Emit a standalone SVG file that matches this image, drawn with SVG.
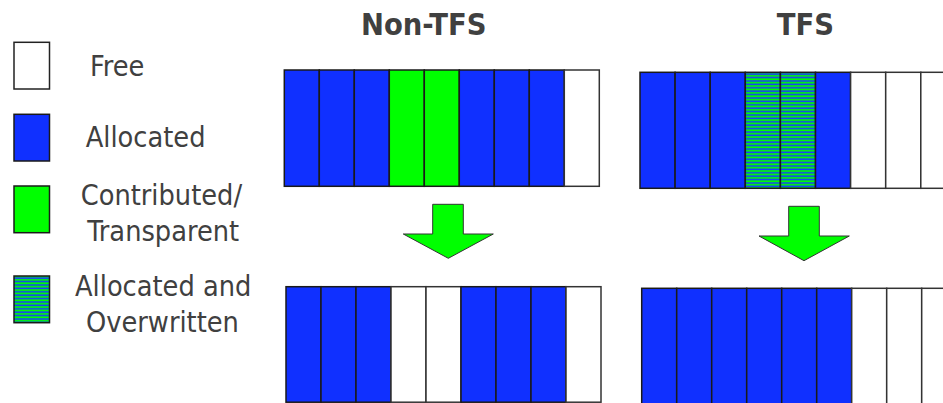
<svg xmlns="http://www.w3.org/2000/svg" width="943" height="403" viewBox="0 0 943 403">
<style>
text{font-family:"DejaVu Sans Condensed","DejaVu Sans","Liberation Sans",sans-serif;fill:#404040}
.lg{font-size:28.6px}
.tt{font-size:30.5px;font-weight:bold}
.b{fill:#1030ff;stroke:#1a1a1a;stroke-width:1.5}
.g{fill:#00ff00;stroke:#1a1a1a;stroke-width:1.5}
.w{fill:#ffffff;stroke:#333;stroke-width:1.5}
.h{fill:url(#stripes);stroke:#1a1a1a;stroke-width:1.5}
.arrow{fill:#00ff00;stroke:#333;stroke-width:1}
</style>
<defs>
<pattern id="stripes" patternUnits="userSpaceOnUse" x="0" y="0" width="10" height="3.4">
<rect x="0" y="0" width="10" height="3.4" fill="#1a3cff"/>
<rect x="0" y="0.2" width="10" height="1.8" fill="#00ff00"/>
</pattern>
</defs>

<g id="legend-free"><rect class="w" x="14" y="42.3" width="35.5" height="46.7" style="stroke:#222"/><text class="lg" x="90" y="76">Free</text></g>
<g id="legend-allocated"><rect class="b" x="14" y="114.3" width="35.5" height="46.7"/><text class="lg" x="85.7" y="146.7">Allocated</text></g>
<g id="legend-contributed"><rect class="g" x="14" y="186" width="35.5" height="46.7"/><text class="lg" x="80.7" y="205">Contributed/</text><text class="lg" x="87.3" y="240.7">Transparent</text></g>
<g id="legend-overwritten"><rect class="h" x="14" y="276" width="35.5" height="46.7"/><text class="lg" x="75" y="296">Allocated and</text><text class="lg" x="86" y="331.7">Overwritten</text></g>

<g id="title-nontfs"><text class="tt" x="361" y="35">Non-TFS</text></g>
<g id="title-tfs"><text class="tt" x="776.7" y="35">TFS</text></g>

<g id="nontfs-before">
<rect class="b" x="284.3" y="70" width="35" height="116.3"/>
<rect class="b" x="319.3" y="70" width="35" height="116.3"/>
<rect class="b" x="354.3" y="70" width="35" height="116.3"/>
<rect class="g" x="389.3" y="70" width="35" height="116.3"/>
<rect class="g" x="424.3" y="70" width="35" height="116.3"/>
<rect class="b" x="459.3" y="70" width="35" height="116.3"/>
<rect class="b" x="494.3" y="70" width="35" height="116.3"/>
<rect class="b" x="529.3" y="70" width="35" height="116.3"/>
<rect class="w" x="564.3" y="70" width="35" height="116.3"/>
</g>

<g id="tfs-before">
<rect class="b" x="640" y="72.3" width="35.1" height="116"/>
<rect class="b" x="675.1" y="72.3" width="35.1" height="116"/>
<rect class="b" x="710.2" y="72.3" width="35.1" height="116"/>
<rect class="h" x="745.3" y="72.3" width="35.1" height="116"/>
<rect class="h" x="780.4" y="72.3" width="35.1" height="116"/>
<rect class="b" x="815.5" y="72.3" width="35.1" height="116"/>
<rect class="w" x="850.6" y="72.3" width="35.1" height="116"/>
<rect class="w" x="885.7" y="72.3" width="35.1" height="116"/>
<rect class="w" x="920.8" y="72.3" width="35.1" height="116"/>
</g>

<g id="nontfs-after">
<rect class="b" x="286" y="286.7" width="35" height="115.5"/>
<rect class="b" x="321" y="286.7" width="35" height="115.5"/>
<rect class="b" x="356" y="286.7" width="35" height="115.5"/>
<rect class="w" x="391" y="286.7" width="35" height="115.5"/>
<rect class="w" x="426" y="286.7" width="35" height="115.5"/>
<rect class="b" x="461" y="286.7" width="35" height="115.5"/>
<rect class="b" x="496" y="286.7" width="35" height="115.5"/>
<rect class="b" x="531" y="286.7" width="35" height="115.5"/>
<rect class="w" x="566" y="286.7" width="35" height="115.5"/>
</g>

<g id="tfs-after">
<rect class="b" x="641.7" y="288.3" width="35" height="117"/>
<rect class="b" x="676.7" y="288.3" width="35" height="117"/>
<rect class="b" x="711.7" y="288.3" width="35" height="117"/>
<rect class="b" x="746.7" y="288.3" width="35" height="117"/>
<rect class="b" x="781.7" y="288.3" width="35" height="117"/>
<rect class="b" x="816.7" y="288.3" width="35" height="117"/>
<rect class="w" x="851.7" y="288.3" width="35" height="117"/>
<rect class="w" x="886.7" y="288.3" width="35" height="117"/>
<rect class="w" x="921.7" y="288.3" width="35" height="117"/>
</g>

<g id="connectors">
<polygon class="arrow" points="432.7,204.3 463.3,204.3 463.3,234 493.3,234 448.3,258.3 403.3,234 432.7,234"/>
<polygon class="arrow" points="788.7,206.3 819.3,206.3 819.3,236 849.3,236 804,260.7 759,236 788.7,236"/>
</g>
</svg>
